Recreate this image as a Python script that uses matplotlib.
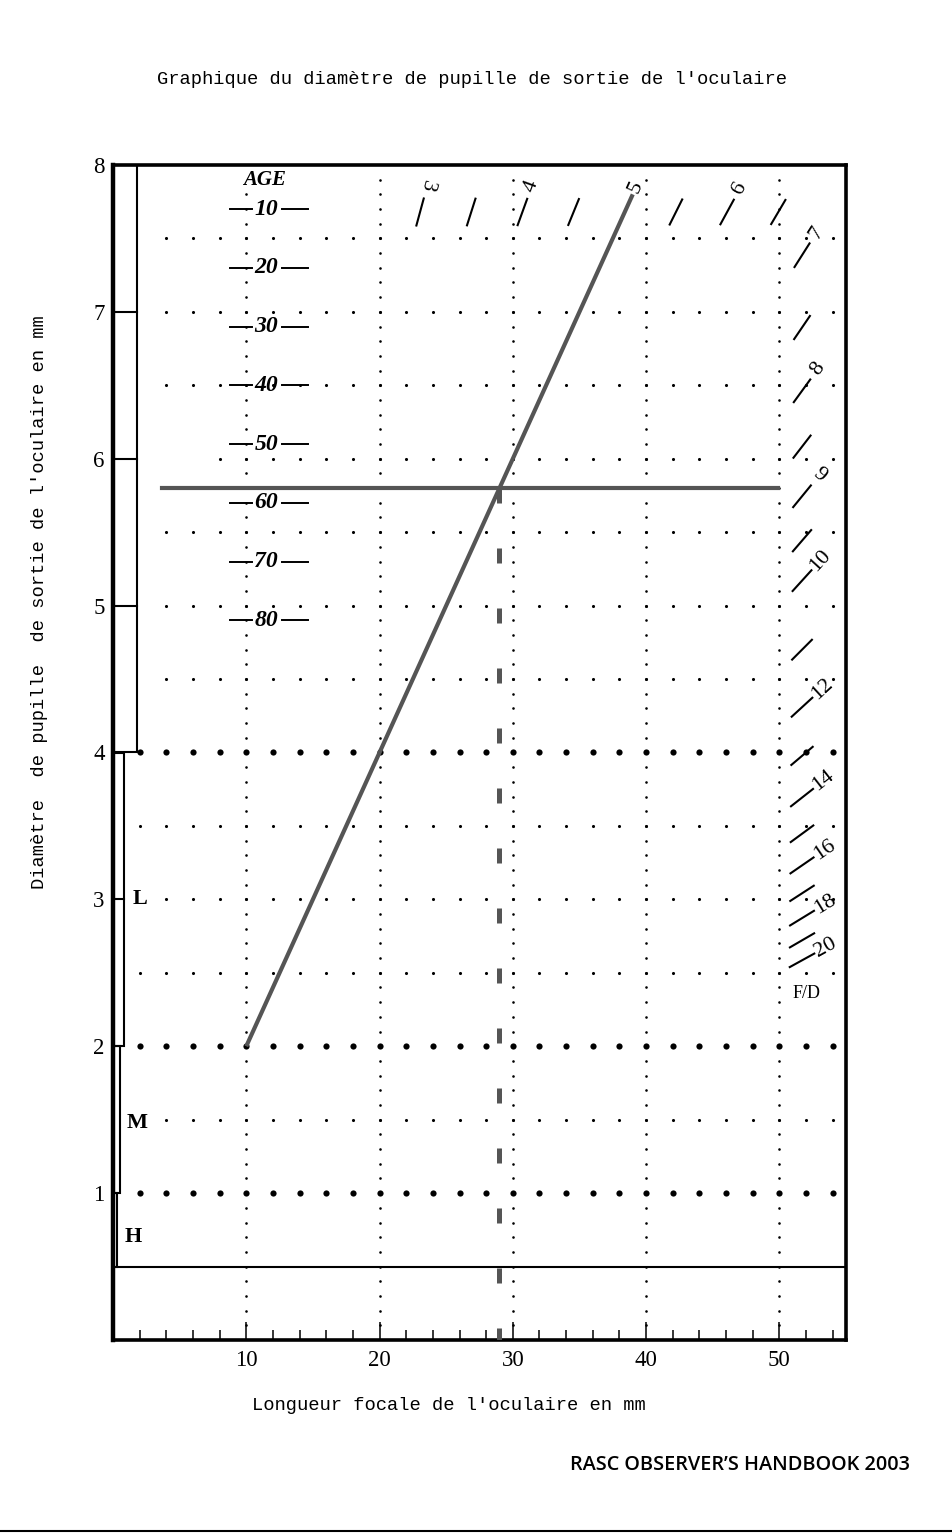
import numpy as np
import matplotlib.pyplot as plt
from matplotlib.lines import Line2D
from matplotlib.patches import Rectangle

# worked example: f/5 telescope, 29 mm eyepiece -> 5.8 mm exit pupil
scope_focal = [10, 39]
scope_pupil = [2.0, 7.8]
eyepiece_fl = 29
pupil_mm = 5.8
pupil_x = [3.7, 49.9]

# typical max pupil diameter by age
ages = [10, 20, 30, 40, 50, 60, 70, 80]
age_pupil = [7.7, 7.3, 6.9, 6.5, 6.1, 5.7, 5.3, 4.9]

# focal ratio scale around the top / right edge
fd_ticks = [3, 3.5, 4, 4.5, 5, 5.5, 6, 6.5, 7, 7.5, 8, 8.5, 9, 9.5, 10,
            11, 12, 13, 14, 15, 16, 17, 18, 19, 20]
fd_labels = [3, 4, 5, 6, 7, 8, 9, 10, 12, 14, 16, 18, 20]

# magnification zones (low / medium / high) on the left
zone_names = ['L', 'M', 'H']
zone_lo = [2, 1, 0.5]
zone_hi = [4, 2, 1]

x_major = [10, 20, 30, 40, 50]

W, H = 953, 1537
SERIF = 'Liberation Serif'
MONO = 'Liberation Mono'
GREY = '#555555'

fig = plt.figure(figsize=(W / 100, H / 100), dpi=100)
ax = fig.add_axes([113 / W, 197 / H, 733 / W, 1175 / H])
ax.set_xlim(0, 55)
ax.set_ylim(0, 8)
px_x = 733 / 55
px_y = 1175 / 8

# dotted grid
col_y = np.arange(0.1, 7.96, 0.1)
for x in x_major:
    ys = col_y[col_y < 7.85] if x == 10 else col_y
    ax.scatter(np.full_like(ys, x), ys, s=3.5, c='black', lw=0, zorder=1)
for y in np.arange(1, 7.6, 0.5):
    start = 4 if (y > 4 or y in (3, 1.5)) else 2
    if y == 6:
        start = 8
    xs = np.arange(start, 54.1, 2)
    big = y in (1, 2, 4)
    ax.scatter(xs, np.full_like(xs, y), s=20 if big else 5, c='black', lw=0, zorder=1)

# left zone bar
ax.add_patch(Rectangle((0, 4), 1.8, 4, fill=False, lw=1.5, ec='black', zorder=2))
for y in [5, 6, 7]:
    ax.plot([0, 1.8], [y, y], color='black', lw=1.5, zorder=2)
for lo, hi, w in zip(zone_lo, zone_hi, [0.85, 0.5, 0.33]):
    ax.add_patch(Rectangle((0, lo), w, hi - lo, fill=False, lw=1.5, ec='black', zorder=2))
ax.plot([0, 0.85], [3, 3], color='black', lw=1.5, zorder=2)
for name, (tx, ty) in zip(zone_names, [(2.0, 3.0), (1.8, 1.48), (1.5, 0.7)]):
    ax.text(tx, ty, name, family=SERIF, fontweight='bold', fontsize=16,
            ha='center', va='center')
ax.plot([0, 55], [0.5, 0.5], color='black', lw=1.5, zorder=2)

# age scale
ax.text(11.4, 7.9, 'AGE', family=SERIF, fontweight='bold', style='italic',
        fontsize=15, ha='center', va='center')
for a, p in zip(ages, age_pupil):
    ax.plot([8.8, 10.4], [p, p], color='black', lw=1.4, zorder=3)
    ax.plot([12.7, 14.6], [p, p], color='black', lw=1.4, zorder=3)
    ax.text(11.5, p, str(a), family=SERIF, fontweight='bold', style='italic',
            fontsize=17, ha='center', va='center', zorder=3)

# F/D ticks along lines pupil = focal / N
for n in fd_ticks:
    ang = np.arctan2(px_y / n, px_x)
    if n * 7.68 <= 50.5:
        cy = 7.68
        cx = n * cy
    else:
        cx = 51.7
        cy = cx / n
    dx = 14 * np.cos(ang) / px_x
    dy = 14 * np.sin(ang) / px_y
    ax.plot([cx - dx, cx + dx], [cy - dy, cy + dy], color='black', lw=1.5, zorder=3)
    if n in fd_labels:
        lx = cx + 27 * np.cos(ang) / px_x
        ly = cy + 27 * np.sin(ang) / px_y
        rot = np.degrees(ang)
        if n == 3:
            rot -= 180
        elif n == 9:
            rot -= 90
        ax.text(lx, ly, str(n), family=SERIF, fontsize=16, rotation=rot,
                rotation_mode='anchor', ha='center', va='center', zorder=3)
ax.text(52.0, 2.36, 'F/D', family=SERIF, fontsize=13, ha='center', va='center')

# worked example lines
ax.plot(scope_focal, scope_pupil, color=GREY, lw=3, solid_capstyle='butt', zorder=4)
ax.plot(pupil_x, [pupil_mm, pupil_mm], color=GREY, lw=3, zorder=4)
ax.plot([eyepiece_fl, eyepiece_fl], [pupil_mm, 0], color=GREY, lw=3.6,
        dashes=(3, 9), zorder=4)

# axes styling
for side, lw in zip(['left', 'right', 'top', 'bottom'], [3.2, 2.6, 2.6, 2.6]):
    ax.spines[side].set_linewidth(lw)
ax.set_xticks(x_major)
ax.set_xticks([v for v in range(2, 55, 2) if v % 10], minor=True)
ax.set_yticks(range(1, 9))
ax.tick_params(axis='x', which='major', direction='in', length=13, width=1.1, pad=7)
ax.tick_params(axis='x', which='minor', direction='in', length=7, width=1.1)
ax.tick_params(axis='y', length=0, pad=6)
for lab in ax.get_xticklabels() + ax.get_yticklabels():
    lab.set_family(SERIF)
    lab.set_fontsize(16.5)

fig.text(472 / W, 1 - 79 / H, "Graphique du diamètre de pupille de sortie de l'oculaire",
         family=MONO, fontsize=13.5, ha='center', va='center')
fig.text(40 / W, 1 - 602 / H, "Diamètre  de pupille  de sortie de l'oculaire en mm",
         family=MONO, fontsize=13.5, rotation=90, ha='center', va='center')
fig.text(449 / W, 1 - 1405 / H, "Longueur focale de l'oculaire en mm",
         family=MONO, fontsize=13.5, ha='center', va='center')
fig.text(910 / W, 1 - 1465 / H, "RASC OBSERVER’S HANDBOOK 2003",
         family='Open Sans', fontsize=14.3, fontweight='semibold', ha='right', va='center')
fig.add_artist(Line2D([0, 1], [1 - 1531 / H] * 2, color='black', lw=1.5))

fig.savefig('out.png', dpi=100)
